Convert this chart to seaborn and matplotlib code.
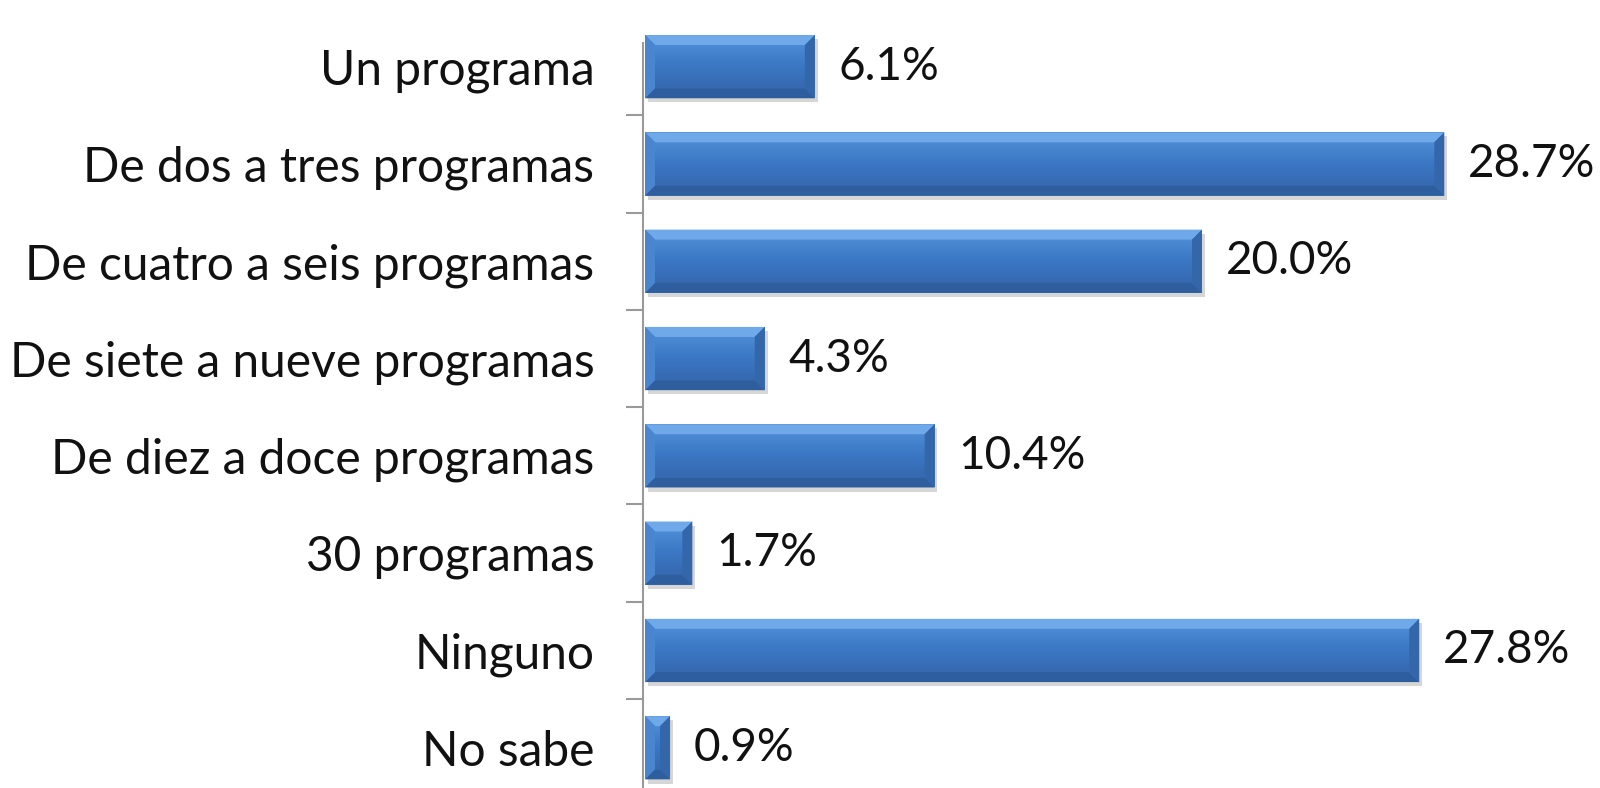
import numpy as np
import matplotlib
matplotlib.use("Agg")
import matplotlib.pyplot as plt
import matplotlib.patheffects as pe
from matplotlib.colors import LinearSegmentedColormap
from matplotlib.patches import Polygon
import seaborn as sns

# --- Data ---
categories = [
    "Un programa",
    "De dos a tres programas",
    "De cuatro a seis programas",
    "De siete a nueve programas",
    "De diez a doce programas",
    "30 programas",
    "Ninguno",
    "No sabe",
]
values = [6.1, 28.7, 20.0, 4.3, 10.4, 1.7, 27.8, 0.9]
value_labels = [f"{v:.1f}%" for v in values]

# --- Setup ---
sns.set_theme(style="white")
plt.rcParams["font.family"] = ["Lato", "DejaVu Sans"]

fig = plt.figure(figsize=(16, 7.88), dpi=100)
ax = fig.add_axes([643 / 1600, -8.4 / 788, 957 / 1600, 778.4 / 788])

px_per_unit = 27.85
sns.barplot(x=values, y=categories, orient="h", color="#3b76c3", width=0.65,
            saturation=1, ax=ax, zorder=3)

ax.set_xlim(-2 / px_per_unit, 955 / px_per_unit)
ax.set_ylim(7.5, -0.5)

# bevel + gradient on each bar
face_cmap = LinearSegmentedColormap.from_list("face", ["#4c8bd4", "#3b77c4", "#3669b0"])
grad = np.linspace(0, 1, 64).reshape(-1, 1)
bpx = 10
bx_unit = bpx / px_per_unit
by_unit = bpx / 97.3
for p in ax.patches:
    p.set_path_effects([pe.SimplePatchShadow(offset=(2, -3), shadow_rgbFace="#7a7a7a", alpha=0.3),
                        pe.Normal()])
    p.set_edgecolor("none")
    x0, w = p.get_x(), p.get_width()
    yt, h = p.get_y(), p.get_height()
    x1, yb = x0 + w, yt + h
    bx = min(bx_unit, w / 2)
    by = by_unit
    ax.imshow(grad, extent=[x0 + bx, x1 - bx, yb - by, yt + by], cmap=face_cmap,
              aspect="auto", origin="upper", zorder=4, interpolation="bilinear")
    bevels = [
        ([(x0, yt), (x1, yt), (x1 - bx, yt + by), (x0 + bx, yt + by)], "#6fa9ea"),
        ([(x0, yb), (x1, yb), (x1 - bx, yb - by), (x0 + bx, yb - by)], "#2f5e9e"),
        ([(x0, yt), (x0 + bx, yt + by), (x0 + bx, yb - by), (x0, yb)], "#4a86d0"),
        ([(x1, yt), (x1 - bx, yt + by), (x1 - bx, yb - by), (x1, yb)], "#3466aa"),
    ]
    for pts, col in bevels:
        ax.add_patch(Polygon(pts, closed=True, facecolor=col, edgecolor="none", zorder=5))

ax.set_xlim(-2 / px_per_unit, 955 / px_per_unit)
ax.set_ylim(7.5, -0.5)

ax.bar_label(ax.containers[0], labels=value_labels, padding=17, fontsize=33, color="#111111")

# --- Axes styling ---
for s in ["top", "right", "bottom"]:
    ax.spines[s].set_visible(False)
ax.spines["left"].set_color("#9a9a9a")
ax.spines["left"].set_linewidth(1.5)
ax.spines["left"].set_bounds(-0.24, 7.5)
ax.set_xticks([])
ax.set_xlabel("")
ax.set_ylabel("")
ax.set_yticks(range(len(categories)))
ax.set_yticklabels(categories, fontsize=34.5, color="#111111")
ax.set_yticks(np.arange(0.5, len(categories) - 1, 1), minor=True)
ax.tick_params(axis="y", which="major", length=0, pad=35)
ax.tick_params(axis="y", which="minor", length=12, width=1.5, color="#9a9a9a", left=True)
ax.set_facecolor("white")

fig.savefig("out.png", dpi=100, facecolor="white")
plt.close(fig)
